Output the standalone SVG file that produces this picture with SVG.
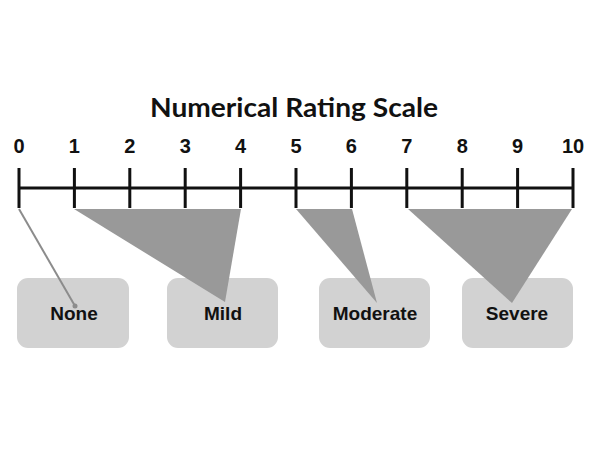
<svg xmlns="http://www.w3.org/2000/svg" width="600" height="449" viewBox="0 0 600 449">
<style>
.title{font-family:"Lato","Liberation Sans",sans-serif;font-weight:bold;font-size:26px;fill:#111;text-anchor:middle}
.num{font-family:"Liberation Sans",Arial,sans-serif;font-weight:bold;font-size:20px;fill:#111;text-anchor:middle}
.lbl{font-family:"Liberation Sans",Arial,sans-serif;font-weight:bold;font-size:19px;fill:#111;text-anchor:middle}
.box{fill:#d2d2d2}
.tri{fill:#999999}
.axis{stroke:#111;stroke-width:3;fill:none}
</style>
<rect width="600" height="449" fill="#fff"/>
<text class="title" x="294" y="117" textLength="288" lengthAdjust="spacingAndGlyphs">Numerical Rating Scale</text>
<g id="scale">
<path class="axis" d="M19 188H573M19 168V208M74.4 168V208M129.8 168V208M185.2 168V208M240.6 168V208M296 168V208M351.4 168V208M406.8 168V208M462.2 168V208M517.6 168V208M573 168V208"/>
<text class="num" x="19" y="153">0</text>
<text class="num" x="74.4" y="153">1</text>
<text class="num" x="129.8" y="153">2</text>
<text class="num" x="185.2" y="153">3</text>
<text class="num" x="240.6" y="153">4</text>
<text class="num" x="296" y="153">5</text>
<text class="num" x="351.4" y="153">6</text>
<text class="num" x="406.8" y="153">7</text>
<text class="num" x="462.2" y="153">8</text>
<text class="num" x="517.6" y="153">9</text>
<text class="num" x="573" y="153">10</text>
</g>
<g id="node-none"><rect class="box" x="17" y="278" width="112" height="70" rx="11"/><text class="lbl" x="74" y="320">None</text></g>
<g id="node-mild"><rect class="box" x="167" y="278" width="111" height="70" rx="11"/><text class="lbl" x="223" y="320">Mild</text></g>
<g id="node-moderate"><rect class="box" x="319" y="278" width="111" height="70" rx="11"/><text class="lbl" x="375" y="320">Moderate</text></g>
<g id="node-severe"><rect class="box" x="462" y="278" width="111" height="70" rx="11"/><text class="lbl" x="517" y="320">Severe</text></g>
<g id="connectors">
<line x1="19" y1="209" x2="75" y2="306" stroke="#8c8c8c" stroke-width="2"/>
<circle cx="75" cy="306" r="2.5" fill="#8c8c8c"/>
<polygon class="tri" points="74,209 241,209 225,302"/>
<polygon class="tri" points="296,209 352,209 377,303"/>
<polygon class="tri" points="408,209 572,209 512,303"/>
</g>
</svg>
